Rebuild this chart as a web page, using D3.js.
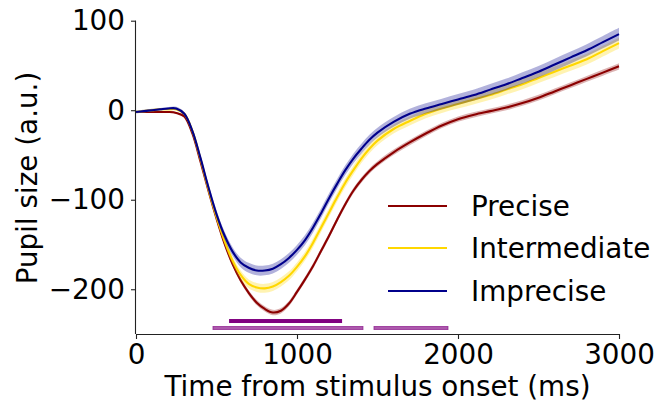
<!DOCTYPE html>
<html>
<head>
<meta charset="utf-8">
<script src="https://cdn.jsdelivr.net/npm/d3@7"></script>
<style>
  body { margin: 0; background: #fff; }
  svg { display: block; font-family: "DejaVu Sans", sans-serif; }
</style>
</head>
<body>
<div id="chart"></div>
<script>
// time points (ms)
const time = [0,50,100,150,200,250,300,350,400,450,500,550,600,650,700,750,800,850,900,950,
  1000,1050,1100,1150,1200,1250,1300,1350,1400,1450,1500,1600,1700,1800,1900,2000,
  2100,2200,2300,2400,2500,2600,2700,2800,2900,3000];

// mean pupil size per condition
const precise = [-2,-2,-2,-2,-2,-3,-7,-26,-57,-90,-121,-149,-172,-190,-204,-215,-222,-226,-224,-216,
  -203,-189,-174,-157,-140,-122,-105,-90,-78,-68,-60,-47,-36,-26,-17,-10,
  -5,-1,3,8,14,21,28,35,42,49];
const intermediate = [-2,-1,0,1,1,1,-4,-23,-54,-88,-119,-146,-168,-184,-194,-198,-199,-197,-192,-185,
  -175,-163,-148,-131,-114,-97,-81,-67,-54,-43,-34,-21,-12,-4,2,7,
  12,17,23,29,36,43,50,57,66,75];
const imprecise = [-2,-1,0,1,2,2,-4,-23,-53,-86,-116,-140,-158,-170,-176,-179,-179,-177,-172,-165,
  -156,-145,-131,-115,-98,-82,-67,-54,-43,-33,-25,-13,-4,2,7,12,
  17,23,29,36,43,51,59,67,76,85];

// standard error half-widths
const semPrecise = [1,1,1,1,1,1,1.2,1.5,1.8,2,2.2,2.4,2.6,2.8,3,3,3,3,3,3,
  3,3,3,3,3,3,3,3,3,3,3,3,3,3,3,3,
  3,3,3.1,3.1,3.2,3.2,3.3,3.3,3.4,3.5];
const semIntermediate = [1.5,1.5,1.5,1.5,1.5,1.5,1.8,2.2,2.8,3.2,3.6,4,4.4,4.8,5,5,5,5,5,5,
  5,5,5,5,5,5,5,5,5,5,5,5,5,5,5,5.2,
  5.3,5.4,5.5,5.6,5.7,5.8,5.9,6,6,6];
const semImprecise = [1.5,1.5,1.5,1.5,1.6,1.8,2,2.5,3,3.5,4,4.5,5,5.3,5.5,5.5,5.5,5.5,5.5,5.5,
  5.5,5.5,5.5,5.5,5.5,5.5,5.5,5.5,5.5,5.5,5.5,5.5,5.6,5.7,5.8,6,
  6.1,6.2,6.3,6.4,6.5,6.6,6.7,6.8,6.9,7];

// significance clusters [start, end] in ms
const clustersMain = [[578, 1280]];
const clustersSecond = [[478, 1410], [1478, 1938]];

const labels = ["Precise", "Intermediate", "Imprecise"];
const colors = ["#8b0000", "#ffd700", "#00008b"];
const means = [precise, intermediate, imprecise];
const sems = [semPrecise, semIntermediate, semImprecise];

const xTicks = [0, 1000, 2000, 3000];
const yTicks = [-200, -100, 0, 100];

const W = 657, H = 407;
const margin = {top: 20.7, right: 38, bottom: 73, left: 136};
const width = W - margin.left - margin.right;
const height = H - margin.top - margin.bottom;
const fontSize = 27.8;

const svg = d3.select("#chart").append("svg")
  .attr("width", W)
  .attr("height", H);

const g = svg.append("g")
  .attr("transform", `translate(${margin.left},${margin.top})`);

const x = d3.scaleLinear().domain([0, 3000]).range([0, width]);
const y = d3.scaleLinear().domain([-250, 100]).range([height, 0]);

const curve = d3.curveCatmullRom.alpha(0.5);

// bands + lines, in plotting order
means.forEach((m, k) => {
  const s = sems[k];
  const rows = time.map((t, i) => ({t, m: m[i], s: s[i]}));
  g.append("path")
    .datum(rows)
    .attr("fill", colors[k])
    .attr("fill-opacity", 0.3)
    .attr("d", d3.area()
      .curve(curve)
      .x(d => x(d.t))
      .y0(d => y(d.m - d.s))
      .y1(d => y(d.m + d.s)));
  g.append("path")
    .datum(rows)
    .attr("fill", "none")
    .attr("stroke", colors[k])
    .attr("stroke-width", 2.1)
    .attr("d", d3.line()
      .curve(curve)
      .x(d => x(d.t))
      .y(d => y(d.m)));
});

// significance bars
g.selectAll(".clusterMain")
  .data(clustersMain)
  .enter().append("rect")
  .attr("x", d => x(d[0]))
  .attr("width", d => x(d[1]) - x(d[0]))
  .attr("y", y(-235.5) - 2)
  .attr("height", 4)
  .attr("fill", "#800080");

g.selectAll(".clusterSecond")
  .data(clustersSecond)
  .enter().append("rect")
  .attr("x", d => x(d[0]))
  .attr("width", d => x(d[1]) - x(d[0]))
  .attr("y", y(-243.3) - 1.6)
  .attr("height", 3.2)
  .attr("fill", "#800080")
  .attr("fill-opacity", 0.65)
  .attr("stroke", "#800080")
  .attr("stroke-opacity", 0.7)
  .attr("stroke-width", 0.8);

// axes
const xAxis = g.append("g")
  .attr("transform", `translate(0,${height})`)
  .call(d3.axisBottom(x).tickValues(xTicks).tickSize(5).tickPadding(5).tickFormat(d3.format("d")));
const yAxis = g.append("g")
  .call(d3.axisLeft(y).tickValues(yTicks).tickSize(5).tickPadding(6)
    .tickFormat(d => d < 0 ? "\u2212" + Math.abs(d) : d));

[xAxis, yAxis].forEach(a => {
  a.select(".domain").attr("stroke", "#222").attr("stroke-width", 1.1);
  a.selectAll(".tick line").attr("stroke", "#222").attr("stroke-width", 1.1);
  a.selectAll(".tick text")
    .attr("fill", "#000")
    .style("font-size", fontSize + "px")
    .style("font-family", "DejaVu Sans");
});
xAxis.select(".domain").attr("d", `M0,0.5H${width}`);
yAxis.select(".domain").attr("d", `M-0.5,${height}V0`);

// axis labels
svg.append("text")
  .attr("x", margin.left + width / 2)
  .attr("y", 396)
  .attr("text-anchor", "middle")
  .style("font-size", fontSize + "px")
  .text("Time from stimulus onset (ms)");

svg.append("text")
  .attr("transform", `translate(37,178) rotate(-90)`)
  .attr("text-anchor", "middle")
  .style("font-size", fontSize + "px")
  .text("Pupil size (a.u.)");

// legend
const legend = svg.append("g");
const legendY = [206, 248, 291];
labels.forEach((name, k) => {
  legend.append("line")
    .attr("x1", 388).attr("x2", 447)
    .attr("y1", legendY[k]).attr("y2", legendY[k])
    .attr("stroke", colors[k])
    .attr("stroke-width", 2.1);
  legend.append("text")
    .attr("x", 471)
    .attr("y", legendY[k])
    .attr("dy", "0.36em")
    .style("font-size", fontSize + "px")
    .text(name);
});
</script>
</body>
</html>
